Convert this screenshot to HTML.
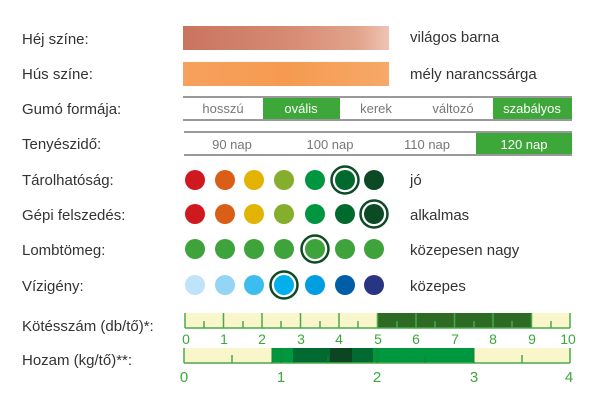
<!DOCTYPE html>
<html><head><meta charset="utf-8"><style>
html,body{margin:0;padding:0;background:#fff;}
svg{display:block;font-family:"Liberation Sans",sans-serif;}
</style></head><body>
<svg width="600" height="402" viewBox="0 0 600 402" xmlns="http://www.w3.org/2000/svg">
<defs>
<linearGradient id="hej" x1="0" x2="1"><stop offset="0" stop-color="#c9745e"/><stop offset="0.5" stop-color="#d68a72"/><stop offset="0.85" stop-color="#e2a48c"/><stop offset="1" stop-color="#efc4b4"/></linearGradient>
<linearGradient id="hus" x1="0" x2="1"><stop offset="0" stop-color="#f7a15e"/><stop offset="0.5" stop-color="#f59a50"/><stop offset="1" stop-color="#f6a968"/></linearGradient>
</defs>
<g font-size="15" fill="#333">
<text x="22" y="44">Héj színe:</text>
<text x="22" y="79">Hús színe:</text>
<text x="22" y="114">Gumó formája:</text>
<text x="22" y="149">Tenyészidő:</text>
<text x="22" y="185">Tárolhatóság:</text>
<text x="22" y="220">Gépi felszedés:</text>
<text x="22" y="255">Lombtömeg:</text>
<text x="22" y="291">Vízigény:</text>
<text x="22" y="331">Kötésszám (db/tő)*:</text>
<text x="22" y="365">Hozam (kg/tő)**:</text>
<text x="410" y="42">világos barna</text>
<text x="410" y="79">mély narancssárga</text>
<text x="410" y="185">jó</text>
<text x="410" y="220">alkalmas</text>
<text x="410" y="255">közepesen nagy</text>
<text x="410" y="291">közepes</text>
</g>
<rect x="183" y="26" width="206" height="24" fill="url(#hej)"/>
<rect x="183" y="62" width="206" height="24" fill="url(#hus)"/>
<rect x="263" y="97" width="77" height="23" fill="#3da73a"/>
<rect x="493" y="97" width="79" height="23" fill="#3da73a"/>
<line x1="183" y1="97" x2="572" y2="97" stroke="#999" stroke-width="2"/>
<line x1="183" y1="120" x2="572" y2="120" stroke="#999" stroke-width="2"/>
<g font-size="13" text-anchor="middle" fill="#777">
<text x="223" y="113">hosszú</text>
<text x="301" y="113" fill="#fff">ovális</text>
<text x="376" y="113">kerek</text>
<text x="453" y="113">változó</text>
<text x="532" y="113" fill="#fff">szabályos</text>
</g>
<rect x="476" y="132" width="96" height="23" fill="#3da73a"/>
<line x1="184" y1="132" x2="572" y2="132" stroke="#999" stroke-width="2"/>
<line x1="184" y1="155" x2="572" y2="155" stroke="#999" stroke-width="2"/>
<g font-size="13" text-anchor="middle" fill="#777">
<text x="232" y="149">90 nap</text>
<text x="330" y="149">100 nap</text>
<text x="427" y="149">110 nap</text>
<text x="524" y="149" fill="#fff">120 nap</text>
</g>
<g>
<circle cx="195" cy="180" r="10" fill="#d0191f"/><circle cx="225" cy="180" r="10" fill="#d95f18"/><circle cx="254" cy="180" r="10" fill="#e2b300"/><circle cx="284" cy="180" r="10" fill="#84ae2c"/><circle cx="315" cy="180" r="10" fill="#00963f"/><circle cx="345" cy="180" r="10" fill="#006a2e"/><circle cx="374" cy="180" r="10" fill="#0b4a24"/>
<circle cx="345" cy="180" r="13.5" fill="none" stroke="#0e4a26" stroke-width="2.5"/>
<circle cx="195" cy="214" r="10" fill="#d0191f"/><circle cx="225" cy="214" r="10" fill="#d95f18"/><circle cx="254" cy="214" r="10" fill="#e2b300"/><circle cx="284" cy="214" r="10" fill="#84ae2c"/><circle cx="315" cy="214" r="10" fill="#00963f"/><circle cx="345" cy="214" r="10" fill="#006a2e"/><circle cx="374" cy="214" r="10" fill="#0b4a24"/>
<circle cx="374" cy="214" r="13.5" fill="none" stroke="#0e4a26" stroke-width="2.5"/>
<circle cx="195" cy="249" r="10" fill="#3ea33a"/><circle cx="225" cy="249" r="10" fill="#3ea33a"/><circle cx="254" cy="249" r="10" fill="#3ea33a"/><circle cx="284" cy="249" r="10" fill="#3ea33a"/><circle cx="315" cy="249" r="10" fill="#3ea33a"/><circle cx="345" cy="249" r="10" fill="#3ea33a"/><circle cx="374" cy="249" r="10" fill="#3ea33a"/>
<circle cx="315" cy="249" r="13.5" fill="none" stroke="#0e4a26" stroke-width="2.5"/>
<circle cx="195" cy="285" r="10" fill="#bfe3f8"/><circle cx="225" cy="285" r="10" fill="#94d4f5"/><circle cx="254" cy="285" r="10" fill="#3cbdee"/><circle cx="284" cy="285" r="10" fill="#00afec"/><circle cx="315" cy="285" r="10" fill="#009de0"/><circle cx="345" cy="285" r="10" fill="#005ea6"/><circle cx="374" cy="285" r="10" fill="#283583"/>
<circle cx="284" cy="285" r="13.5" fill="none" stroke="#0e4a26" stroke-width="2.5"/>
</g>
<rect x="185" y="313" width="385" height="15" fill="#faf6cc"/>
<rect x="377.5" y="313" width="154" height="15" fill="#2d6a23"/>
<g stroke="#4aa84a" stroke-width="1.5">
<line x1="185" y1="328" x2="570" y2="328"/>
<line x1="185" y1="313" x2="185" y2="328"/><line x1="223.5" y1="313" x2="223.5" y2="328"/><line x1="262" y1="313" x2="262" y2="328"/><line x1="300.5" y1="313" x2="300.5" y2="328"/><line x1="339" y1="313" x2="339" y2="328"/><line x1="377.5" y1="313" x2="377.5" y2="328"/><line x1="416" y1="313" x2="416" y2="328"/><line x1="454.5" y1="313" x2="454.5" y2="328"/><line x1="493" y1="313" x2="493" y2="328"/><line x1="531.5" y1="313" x2="531.5" y2="328"/><line x1="570" y1="313" x2="570" y2="328"/>
<line x1="204" y1="321" x2="204" y2="328"/><line x1="243" y1="321" x2="243" y2="328"/><line x1="281" y1="321" x2="281" y2="328"/><line x1="320" y1="321" x2="320" y2="328"/><line x1="358" y1="321" x2="358" y2="328"/><line x1="397" y1="321" x2="397" y2="328"/><line x1="435" y1="321" x2="435" y2="328"/><line x1="474" y1="321" x2="474" y2="328"/><line x1="512" y1="321" x2="512" y2="328"/><line x1="551" y1="321" x2="551" y2="328"/>
</g>
<g font-size="14" fill="#3da73a" text-anchor="middle">
<text x="186" y="344">0</text><text x="224" y="344">1</text><text x="262" y="344">2</text><text x="301" y="344">3</text><text x="339" y="344">4</text><text x="378" y="344">5</text><text x="416" y="344">6</text><text x="455" y="344">7</text><text x="493" y="344">8</text><text x="532" y="344">9</text><text x="568" y="344">10</text>
</g>
<rect x="184" y="348" width="386" height="15" fill="#faf6cc"/>
<rect x="272" y="348" width="202" height="15" fill="#00983e"/>
<rect x="293" y="348" width="80" height="15" fill="#006a30"/>
<rect x="330" y="348" width="22" height="15" fill="#0b4522"/>
<g stroke="#4aa84a" stroke-width="1.5">
<line x1="184" y1="363" x2="570" y2="363"/>
<line x1="184" y1="348" x2="184" y2="363"/><line x1="570" y1="348" x2="570" y2="363"/>
<line x1="232" y1="355" x2="232" y2="363"/><line x1="522" y1="355" x2="522" y2="363"/>
</g>
<g stroke="#2a7a34" stroke-width="1">
<line x1="281" y1="348" x2="281" y2="363"/><line x1="377" y1="348" x2="377" y2="363"/><line x1="328" y1="356" x2="328" y2="363"/><line x1="425" y1="356" x2="425" y2="363"/>
<line x1="474" y1="348" x2="474" y2="363"/><line x1="272" y1="348" x2="272" y2="363"/>
</g>
<g font-size="15" fill="#3da73a" text-anchor="middle">
<text x="184" y="382">0</text><text x="281" y="382">1</text><text x="377" y="382">2</text><text x="474" y="382">3</text><text x="569" y="382">4</text>
</g>
</svg>
</body></html>
